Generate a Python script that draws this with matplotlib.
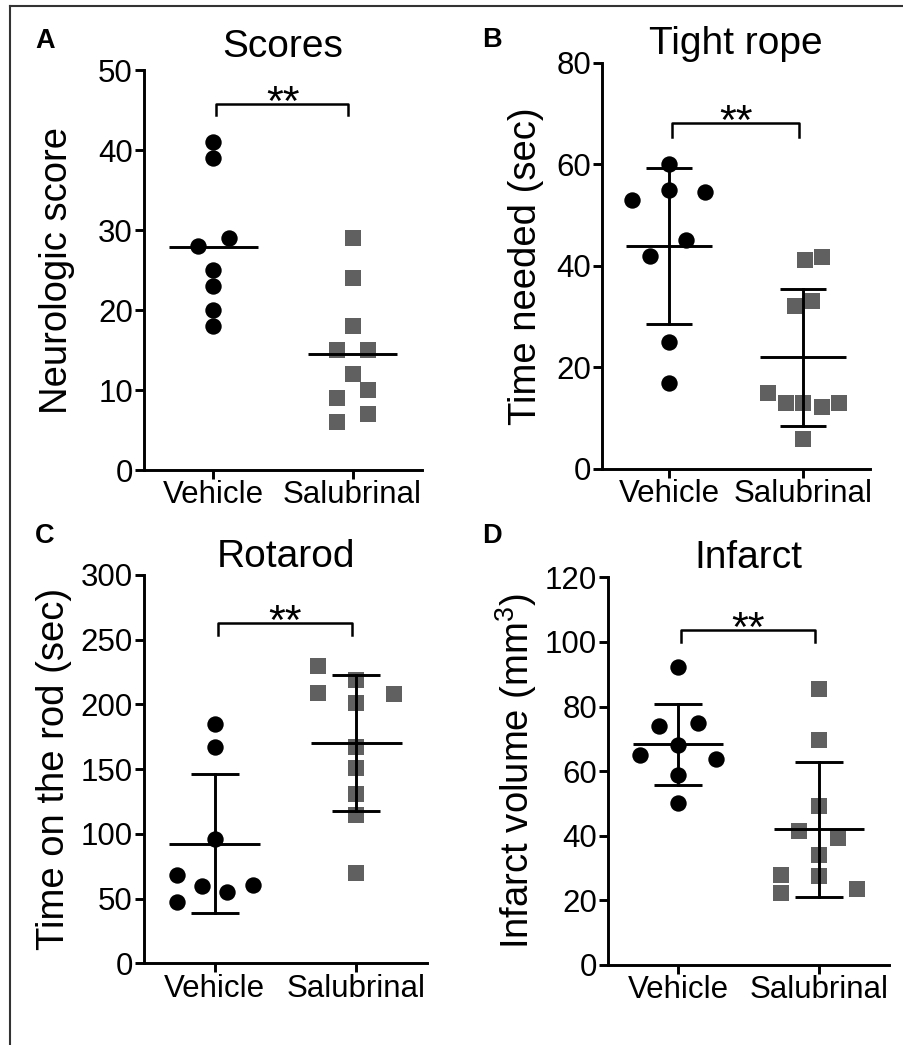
import numpy as np
import matplotlib
matplotlib.use("Agg")
import matplotlib.pyplot as plt
from matplotlib.lines import Line2D

plt.rcParams['font.family'] = ['Liberation Sans', 'DejaVu Sans']
plt.rcParams['mathtext.fontset'] = 'custom'
plt.rcParams['mathtext.rm'] = 'Liberation Sans'

# ---------------- data ----------------
groups = ["Vehicle", "Salubrinal"]

scores_vehicle = [41, 39, 29, 28, 25, 23, 20, 18]
scores_salubrinal = [29, 24, 18, 15, 15, 12, 10, 9, 7, 6]

rope_vehicle = [60, 53, 55, 54.5, 45, 42, 25, 17]
rope_salubrinal = [41.2, 41.8, 33, 32, 15, 12.9, 12.9, 12.2, 13, 5.9]

rotarod_vehicle = [185, 167, 96, 68, 60, 55, 60.5, 47]
rotarod_salubrinal = [229.7, 219, 209, 208, 201, 167.4, 150.7, 130.8, 114.6, 70]

infarct_vehicle = [92.2, 75, 74, 68.1, 65, 63.7, 58.7, 50]
infarct_salubrinal = [85.3, 69.7, 49.2, 41.5, 39.2, 34.1, 27.9, 27.6, 22.2, 23.4]

titles = ["Scores", "Tight rope", "Rotarod", "Infarct"]
ylabels = ["Neurologic score", "Time needed (sec)", "Time on the rod (sec)",
           r"Infarct volume (mm$^{3}$)"]
panel_letters = ["A", "B", "C", "D"]
ymax = [50, 80, 300, 120]
ystep = [10, 20, 50, 20]
bracket_top = [45.75, 68.1, 263, 103.7]
bracket_drop = [44.4, 65.4, 254, 100.1]
show_sd = [False, True, True, True]

# ---------------- layout (horizontal scatter offsets, axes rects) ----------------
off_scores_v = [0, 0, 0.11, -0.11, 0, 0, 0, 0]
off_scores_s = [0, 0, 0, -0.11, 0.11, 0, 0.11, -0.11, 0.11, -0.11]
off_rope_v = [0, -0.275, 0, 0.27, 0.13, -0.14, 0, 0]
off_rope_s = [0.015, 0.14, 0.07, -0.06, -0.26, -0.13, 0, 0.14, 0.27, 0]
off_rot_v = [0, 0, 0, -0.27, -0.09, 0.09, 0.27, -0.27]
off_rot_s = [-0.27, 0, -0.27, 0.27, 0, 0, 0, 0, 0, 0]
off_inf_v = [0, 0.14, -0.14, 0, -0.27, 0.27, 0, 0]
off_inf_s = [0, 0, 0, -0.14, 0.14, 0, -0.27, 0, -0.27, 0.27]

W, H = 904, 1045
# axes in pixels: left, right, top, bottom
rects_px = [(144, 422, 70, 470), (602, 870, 62.7, 469),
            (144, 427, 575, 963.3), (608, 889, 577.3, 965)]
title_pads = [9.5, 6, 6, 6.5]
ylabel_x = [-0.248, -0.216, -0.254, -0.246]
letter_pos = [(35, 48), (482, 47), (35, 543), (482, 543)]

panels = [
    (scores_vehicle, scores_salubrinal, off_scores_v, off_scores_s),
    (rope_vehicle, rope_salubrinal, off_rope_v, off_rope_s),
    (rotarod_vehicle, rotarod_salubrinal, off_rot_v, off_rot_s),
    (infarct_vehicle, infarct_salubrinal, off_inf_v, off_inf_s),
]

fig = plt.figure(figsize=(W / 100, H / 100), dpi=100)
fig.patch.set_facecolor("white")

LW = 2.1
black = "#000000"
gray = "#606060"

for i, (veh, sal, ov, os_) in enumerate(panels):
    l, r, t, b = rects_px[i]
    ax = fig.add_axes([l / W, 1 - b / H, (r - l) / W, (b - t) / H])
    # points
    ax.plot(np.zeros(len(veh)) + np.array(ov), veh, linestyle="none", marker="o",
            markersize=11.8, color=black, markeredgewidth=0, zorder=2, clip_on=False)
    ax.plot(np.ones(len(sal)) + np.array(os_), sal, linestyle="none", marker="s",
            markersize=12.2, color=gray, markeredgewidth=0, zorder=2, clip_on=False)
    # mean and SD
    for xpos, vals in ((0, veh), (1, sal)):
        m = np.mean(vals)
        ax.plot([xpos - 0.32, xpos + 0.32], [m, m], color=black, lw=LW, zorder=3,
                solid_capstyle="butt")
        if show_sd[i]:
            sd = np.std(vals, ddof=1)
            ax.plot([xpos, xpos], [m - sd, m + sd], color=black, lw=LW, zorder=3)
            for yy in (m - sd, m + sd):
                ax.plot([xpos - 0.17, xpos + 0.17], [yy, yy], color=black, lw=LW,
                        zorder=3, solid_capstyle="butt")
    # significance bracket
    bt, bd = bracket_top[i], bracket_drop[i]
    ax.plot([0.02, 0.02, 0.97, 0.97], [bd, bt, bt, bd], color=black, lw=1.8,
            zorder=3, clip_on=False)
    ax.annotate("**", xy=(0.5, bt), xytext=(0, -8), textcoords="offset points",
                ha="center", va="baseline", fontsize=31, annotation_clip=False)

    ax.set_xlim(-0.5, 1.5)
    ax.set_ylim(0, ymax[i])
    ax.set_yticks(np.arange(0, ymax[i] + 1, ystep[i]))
    ax.set_xticks([0, 1])
    ax.set_xticklabels(groups)
    for s in ("top", "right"):
        ax.spines[s].set_visible(False)
    for s in ("left", "bottom"):
        ax.spines[s].set_linewidth(LW)
    ax.tick_params(axis="both", direction="out", length=6.5, width=LW,
                   colors=black)
    ax.tick_params(axis="y", pad=1.5, labelsize=22.5)
    ax.tick_params(axis="x", pad=1, labelsize=22.5)
    ax.set_title(titles[i], fontsize=28, pad=title_pads[i])
    ax.set_ylabel(ylabels[i], fontsize=27.5)
    ax.yaxis.set_label_coords(ylabel_x[i], 0.5)

    lx, ly = letter_pos[i]
    fig.text(lx / W, 1 - ly / H, panel_letters[i], fontsize=19.5, fontweight="bold",
             ha="left", va="baseline")

# figure border (left and top)
bx = 9.5 / W
by = 1 - 6 / H
fig.add_artist(Line2D([bx, bx], [0, by], transform=fig.transFigure, color="#333333", lw=1.5))
fig.add_artist(Line2D([bx, 1], [by, by], transform=fig.transFigure, color="#333333", lw=1.5))

fig.savefig("out.png", dpi=100, facecolor="white")
